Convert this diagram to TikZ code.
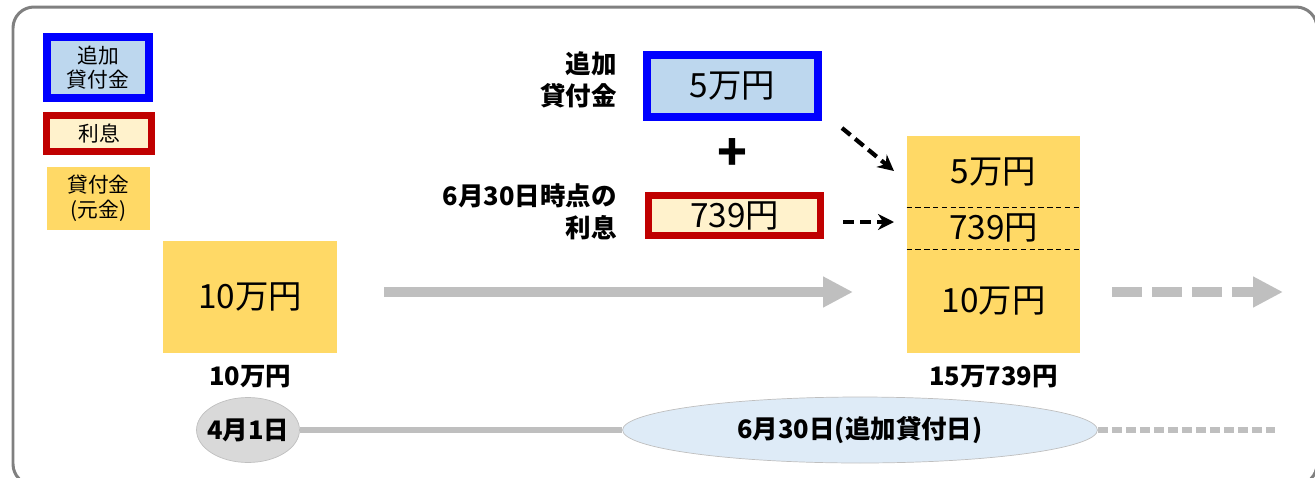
\documentclass[tikz,border=0pt]{standalone}
\usepackage{fontspec}
\setmainfont{Noto Sans CJK JP}
\usetikzlibrary{shapes.geometric,arrows.meta}
\definecolor{addblue}{HTML}{0000FF}
\definecolor{addfill}{HTML}{BDD7EE}
\definecolor{intred}{HTML}{C00000}
\definecolor{intfill}{HTML}{FFF2CC}
\definecolor{loanyellow}{HTML}{FFD966}
\definecolor{flowgray}{HTML}{BFBFBF}
\definecolor{framegray}{HTML}{808080}
\definecolor{dayblue}{HTML}{DEEBF7}
\newcommand\gy{292}
\newcommand\ty{430}

\begin{document}
\begin{tikzpicture}[x=0.02cm, y=-0.02cm,
    loan/.style={rectangle, fill=loanyellow, inner sep=0pt},
    addbox/.style={rectangle, draw=addblue, fill=addfill, line width=0.16cm, inner sep=0pt},
    intbox/.style={rectangle, draw=intred, fill=intfill, line width=0.14cm, inner sep=0pt},
    lab/.style={font=\fontsize{14.5}{18}\selectfont\bfseries, align=right},
    big/.style={font=\fontsize{19}{22}\selectfont},
    small/.style={font=\fontsize{11.8}{14}\selectfont, align=center}]
    \useasboundingbox (0,0) rectangle (1315,477);
    \clip (0,0) rectangle (1315,477);
    \draw [framegray, line width=0.06cm, rounded corners=0.42cm] (13,7) rectangle (1317,485);

    %legend
    \node at (98, 67.5) [addbox, minimum width=2.04cm, minimum height=1.22cm, small] (lgAdd) {追加\\貸付金};
    \node at (99, 133.5) [intbox, minimum width=2.1cm, minimum height=0.72cm, small] (lgInt) {利息};
    \node at (98.5, 198.5) [loan, minimum width=2.06cm, minimum height=1.26cm, small] (lgLoan) {貸付金\\(元金)};

    %April 1st
    \node at (250, 297) [loan, minimum width=3.48cm, minimum height=2.24cm, big] (box10) {10万円};
    \node at (250, 377) [lab] (sum1) {10万円};

    %additional loan and interest
    \node at (732.5, 86) [addbox, minimum width=3.42cm, minimum height=1.24cm, big] (add5) {5万円};
    \node at (623, 80) [lab, anchor=east] (addLab) {追加\\貸付金};
    \node at (732, 155) [font=\fontsize{28}{28}\selectfont\bfseries] (plus) {+};
    \node at (734.5, 215.5) [intbox, minimum width=3.44cm, minimum height=0.8cm, big] (int739) {739円};
    \node at (623, 212) [lab, anchor=east] (intLab) {6月30日時点の\\利息};

    %stacked balance
    \node at (993.5, 171.5) [loan, minimum width=3.46cm, minimum height=1.42cm, big] (stk5) {5万円};
    \node at (993.5, 228) [loan, minimum width=3.46cm, minimum height=0.84cm, big] (stk739) {739円};
    \node at (993.5, 301) [loan, minimum width=3.46cm, minimum height=2.08cm, big] (stk10) {10万円};
    \draw [dashed, thin, dash pattern=on 3pt off 2pt] (stk5.south west) -- (stk5.south east);
    \draw [dashed, thin, dash pattern=on 3pt off 2pt] (stk739.south west) -- (stk739.south east);
    \node at (993.5, 377) [lab] (sum2) {15万739円};

    %flow arrows
    \coordinate (g1) at (384, \gy);
    \coordinate (g2) at (853, \gy);
    \coordinate (g3) at (1112, \gy);
    \coordinate (g4) at (1283, \gy);
    \draw [-{Triangle[length=0.6cm, width=0.58cm]}, flowgray, line width=0.2cm] (g1) -- (g2);
    \draw [-{Triangle[length=0.6cm, width=0.58cm]}, flowgray, line width=0.2cm, dash pattern=on 0.6cm off 0.2cm] (g3) -- (g4);

    \coordinate (d1) at (842, 128);
    \coordinate (d2) at (894, 171);
    \coordinate (d3) at (843, 222);
    \coordinate (d4) at (894, 222);
    \draw [-{Stealth[length=0.32cm, width=0.32cm]}, line width=0.085cm, dash pattern=on 0.22cm off 0.12cm] (d1) -- (d2);
    \draw [-{Stealth[length=0.32cm, width=0.32cm]}, line width=0.085cm, dash pattern=on 0.22cm off 0.12cm] (d3) -- (d4);

    %timeline
    \node at (248, \ty) [ellipse, draw=flowgray, fill=black!15, minimum width=2.06cm, minimum height=1.3cm, inner sep=-3pt, lab] (apr) {4月1日};
    \node at (860, \ty) [ellipse, draw=flowgray, fill=dayblue, minimum width=9.5cm, minimum height=1.32cm, inner sep=0pt, lab] (jun) {6月30日(追加貸付日)};
    \coordinate (tEnd) at (1275, \ty);
    \draw [flowgray, line width=0.12cm] (apr) -- (jun);
    \draw [flowgray, line width=0.12cm, dash pattern=on 0.2cm off 0.08cm] (jun.east) -- (tEnd);
\end{tikzpicture}
\end{document}
